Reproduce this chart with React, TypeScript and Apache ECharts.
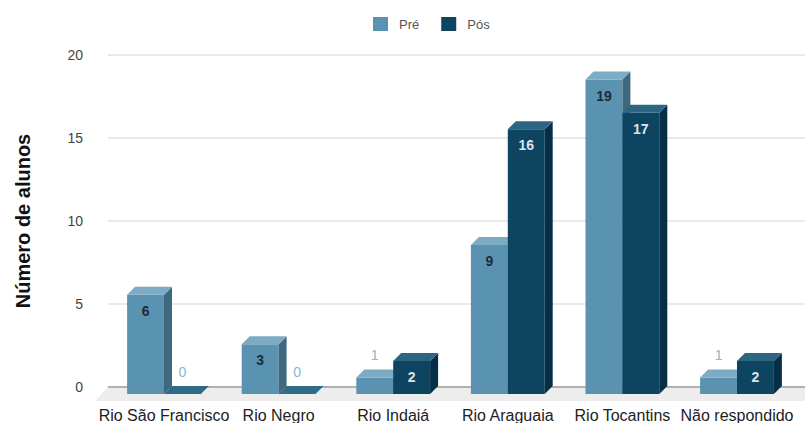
import React, { useEffect, useRef } from "react";
import * as echarts from "echarts";

// Rivers named by the students, before (Pré) and after (Pós) the activity
const categories = [
  "Rio São Francisco",
  "Rio Negro",
  "Rio Indaiá",
  "Rio Araguaia",
  "Rio Tocantins",
  "Não respondido",
];
const preValues = [6, 3, 1, 9, 19, 1];
const posValues = [0, 0, 2, 16, 17, 2];
const seriesNames = ["Pré", "Pós"];
const yMin = 0;
const yMax = 20;
const yInterval = 5;

const FONT = "'Liberation Sans', Arial, sans-serif";
const DEPTH = 8;

const PALETTE = [
  { front: "#5a93b2", top: "#7eabc4", side: "#3e687e", label: "#1c2b35" },
  { front: "#0d4561", top: "#2d6683", side: "#062f47", label: "#d6e5ee" },
];

function makeRenderItem(sideIdx: number) {
  const c = PALETTE[sideIdx];
  return (params: any, api: any) => {
    const idx = api.value(0);
    const v = api.value(1);
    const [cx, yTop] = api.coord([idx, v]);
    const [, yBase] = api.coord([idx, 0]);
    const band = api.size([1, 0])[0];
    const w = band * 0.322;
    const x0 = sideIdx === 0 ? cx - w : cx;
    const x1 = x0 + w;
    const h = yBase - yTop;
    const children: any[] = [];

    if (h > 0.5) {
      children.push({
        type: "rect",
        shape: { x: x0, y: yTop, width: w, height: h },
        style: { fill: c.front },
      });
      children.push({
        type: "polygon",
        shape: {
          points: [
            [x1, yTop],
            [x1 + DEPTH, yTop - DEPTH],
            [x1 + DEPTH, yBase - DEPTH],
            [x1, yBase],
          ],
        },
        style: { fill: c.side },
      });
    }
    children.push({
      type: "polygon",
      shape: {
        points: [
          [x0, yTop],
          [x0 + DEPTH, yTop - DEPTH],
          [x1 + DEPTH, yTop - DEPTH],
          [x1, yTop],
        ],
      },
      style: { fill: h > 0.5 ? c.top : "#2f6a86" },
    });

    const inside = h >= 26;
    children.push({
      type: "text",
      x: x0 + w / 2,
      y: inside ? yTop + 16 : yTop - 22,
      style: {
        text: String(v),
        fontFamily: FONT,
        fontSize: 14,
        fontWeight: inside ? "bold" : "normal",
        fill: inside ? c.label : "#86b6d2",
        align: "center",
        verticalAlign: "middle",
      },
    });

    return { type: "group", children };
  };
}

export default function App() {
  const ref = useRef<HTMLDivElement>(null);

  useEffect(() => {
    if (!ref.current) return;
    const chart = echarts.init(ref.current, null, { renderer: "svg" });
    const values = [preValues, posValues];

    chart.setOption({
      animation: false,
      backgroundColor: "#ffffff",
      legend: {
        data: seriesNames,
        left: 368,
        top: 12,
        icon: "rect",
        itemWidth: 15,
        itemHeight: 14,
        itemGap: 22,
        textStyle: {
          fontFamily: FONT,
          fontSize: 13,
          color: "#555555",
          padding: [0, 0, 0, 6],
        },
      },
      grid: [
        // back wall: gridlines and value labels
        { left: 108, right: 0, top: 55, bottom: 36 },
        // front plane: the bars and category labels
        { left: 106.7, right: 10.7, top: 63, bottom: 28 },
      ],
      xAxis: [
        {
          type: "category",
          gridIndex: 0,
          data: categories,
          show: false,
        },
        {
          type: "category",
          gridIndex: 1,
          data: categories,
          axisLine: { show: false },
          axisTick: { show: false },
          axisLabel: {
            interval: 0,
            margin: 13,
            fontFamily: FONT,
            fontSize: 16,
            color: "#222222",
          },
        },
      ],
      yAxis: [
        {
          type: "value",
          gridIndex: 0,
          min: yMin,
          max: yMax,
          interval: yInterval,
          axisLine: { show: false },
          axisTick: { show: false },
          axisLabel: {
            margin: 25,
            fontFamily: FONT,
            fontSize: 14,
            color: "#444444",
          },
          splitLine: { lineStyle: { color: "#e2e2e2", width: 1.5 } },
          name: "Número de alunos",
          nameLocation: "middle",
          nameRotate: 90,
          nameGap: 75,
          nameTextStyle: {
            fontFamily: FONT,
            fontSize: 20,
            fontWeight: "bold",
            color: "#111111",
          },
        },
        {
          type: "value",
          gridIndex: 1,
          min: yMin,
          max: yMax,
          interval: yInterval,
          show: false,
          splitLine: { show: false },
        },
      ],
      graphic: [
        {
          type: "polygon",
          z: 1,
          shape: {
            points: [
              [108, 387],
              [805, 387],
              [805, 401],
              [95, 401],
            ],
          },
          style: { fill: "#ededed" },
        },
        {
          type: "line",
          z: 1,
          shape: { x1: 108, y1: 387, x2: 805, y2: 387 },
          style: { stroke: "#9c9c9c", lineWidth: 1.5 },
        },
      ],
      series: seriesNames.map((name, s) => ({
        name,
        type: "custom",
        xAxisIndex: 1,
        yAxisIndex: 1,
        clip: false,
        z: 3 + s,
        itemStyle: { color: PALETTE[s].front },
        encode: { x: 0, y: 1 },
        data: values[s].map((v, i) => [i, v]),
        renderItem: makeRenderItem(s),
      })),
    });

    return () => chart.dispose();
  }, []);

  return (
    <div
      ref={ref}
      style={{ position: "fixed", left: 0, top: 0, width: 805, height: 423 }}
    />
  );
}
